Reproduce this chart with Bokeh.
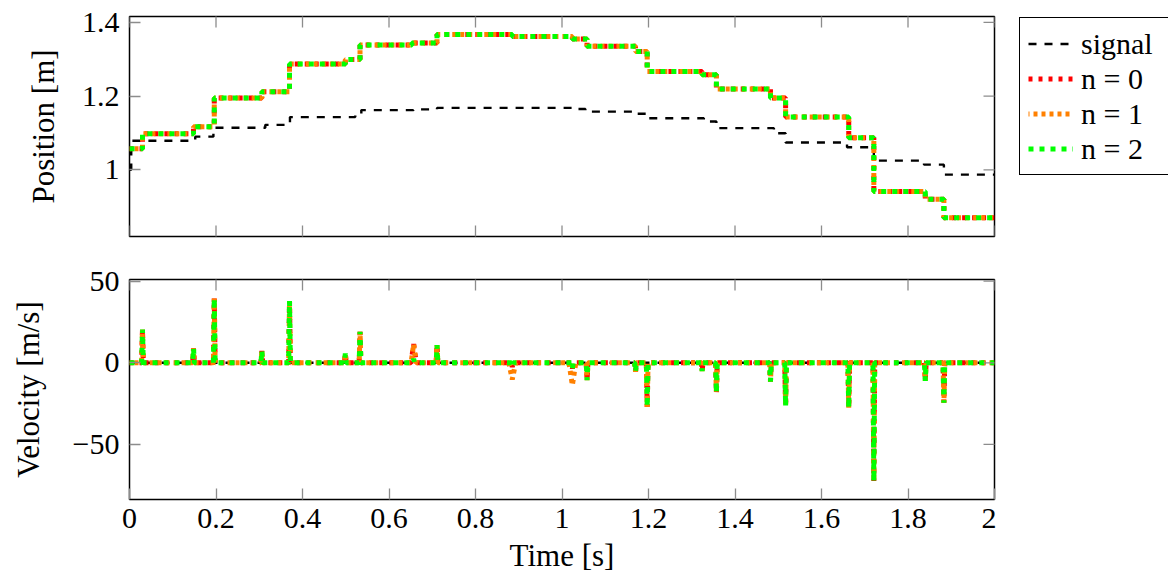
import math
from bokeh.plotting import figure
from bokeh.layouts import column, row
from bokeh.models import Range1d, FixedTicker, Legend, LegendItem
from bokeh.embed import file_html
from bokeh.resources import INLINE

# ---------------- data ----------------
T_END = 2.0

# measured signal (step changes: time [s], new level [m])
sig_t = [0.0, 0.004, 0.152, 0.194, 0.314, 0.371, 0.522, 0.536, 0.657, 0.711,
         1.024, 1.054, 1.166, 1.197, 1.328, 1.357, 1.490, 1.517, 1.659, 1.721,
         1.837, 1.883]
sig_y = [1.000, 1.079, 1.090, 1.114, 1.122, 1.143, 1.149, 1.162, 1.164, 1.168,
         1.165, 1.158, 1.152, 1.140, 1.131, 1.113, 1.099, 1.074, 1.061, 1.025,
         1.014, 0.987]

# estimated position (n = 0, 1, 2 coincide)
est_t = [0.0, 0.030, 0.148, 0.196, 0.306, 0.370, 0.499, 0.533, 0.653, 0.711,
         0.885, 1.024, 1.058, 1.170, 1.197, 1.324, 1.357, 1.482, 1.517, 1.663,
         1.721, 1.840, 1.883]
est_y = [1.057, 1.098, 1.117, 1.195, 1.212, 1.287, 1.299, 1.339, 1.344, 1.367,
         1.362, 1.355, 1.335, 1.321, 1.267, 1.258, 1.219, 1.195, 1.143, 1.087,
         0.941, 0.920, 0.870]

# velocity pulses shared by all estimates: time [s], peak [m/s]
vel_t = [0.030, 0.148, 0.196, 0.306, 0.370, 0.499, 0.533, 0.711, 1.058, 1.170,
         1.197, 1.324, 1.357, 1.482, 1.517, 1.663, 1.721, 1.840, 1.883]
vel_v = [20.4, 8.8, 39.4, 7.3, 37.8, 5.7, 19.0, 10.8, -10.6, -5.5,
         -27.0, -5.0, -18.4, -11.6, -26.5, -27.5, -72.4, -11.0, -24.5]
SAMPLE_DT = 0.002  # pulse half-duration [s]

# series-specific extra pulses: time, peak, half-duration
n0_extra_t = [0.657, 0.885, 1.024]
n0_extra_v = [11.4, -2.5, -3.5]
n0_extra_d = [0.006, 0.002, 0.002]
n1_extra_t = [0.657, 0.885, 1.024]
n1_extra_v = [11.4, -10.2, -13.7]
n1_extra_d = [0.006, 0.008, 0.008]
n2_extra_t = [0.657, 0.885, 1.024]
n2_extra_v = [2.5, -2.5, -3.5]
n2_extra_d = [0.002, 0.002, 0.002]

x_ticks = [0, 0.2, 0.4, 0.6, 0.8, 1, 1.2, 1.4, 1.6, 1.8, 2]
x_tick_labels = ["0", "0.2", "0.4", "0.6", "0.8", "1", "1.2", "1.4", "1.6", "1.8", "2"]
pos_ticks = [1, 1.2, 1.4]
pos_tick_labels = ["1", "1.2", "1.4"]
vel_ticks = [-50, 0, 50]
vel_tick_labels = ["\u221250", "0", "50"]

labels = ["signal", "n = 0", "n = 1", "n = 2"]
colors = ["black", "#ff0000", "#ff8000", "#00ff00"]

FONT = "Liberation Serif"
TICK_COLOR = "#8c8c8c"
TICK_LEN = 11
EST_W = 5
SIG_STYLE = dict(line_color=colors[0], line_width=2.4, line_dash="8 8")
N0_STYLE = dict(line_color=colors[1], line_width=EST_W, line_dash="4 6")
N1_STYLE = dict(line_color=colors[2], line_width=EST_W, line_dash="4 4", line_dash_offset=3)
N2_STYLE = dict(line_color=colors[3], line_width=EST_W, line_dash="5 6")


def step_xy(ts, ys):
    return list(ts) + [T_END], list(ys) + [ys[-1]]


def pulses(ts, vs, ds):
    items = sorted(zip(ts, vs, ds))
    xs, ys = [0.0], [0.0]
    for t, v, d in items:
        xs += [t - d, t, t + d]
        ys += [0.0, v, 0.0]
    xs.append(T_END)
    ys.append(0.0)
    return xs, ys


def style_axis(ax):
    ax.major_tick_in = TICK_LEN
    ax.major_tick_out = 0
    ax.minor_tick_line_color = None
    ax.major_tick_line_color = TICK_COLOR
    ax.major_tick_line_width = 1.3
    ax.axis_line_color = None
    ax.major_label_text_font = FONT
    ax.major_label_text_font_size = "30px"
    ax.major_label_text_color = "black"
    ax.axis_label_text_font = FONT
    ax.axis_label_text_font_size = "31px"
    ax.axis_label_text_font_style = "normal"
    ax.axis_label_text_color = "black"


def style_fig(fig):
    fig.xgrid.visible = False
    fig.ygrid.visible = False
    fig.outline_line_color = "black"
    fig.outline_line_width = 1.5
    fig.outline_line_alpha = 1.0
    fig.background_fill_color = "white"
    fig.border_fill_color = "white"


def mirror_ticks(fig, xr, yr, yticks, x_bottom):
    # inward tick marks on the edges that carry no labelled axis
    # (markers centred on the frame edge; the outer half is clipped by the frame)
    fig.scatter(x_ticks, [yr.end] * len(x_ticks), marker="dash", size=2 * TICK_LEN,
                angle=math.pi / 2, line_color=TICK_COLOR, line_width=1.3)
    if x_bottom:
        fig.scatter(x_ticks, [yr.start] * len(x_ticks), marker="dash", size=2 * TICK_LEN,
                    angle=math.pi / 2, line_color=TICK_COLOR, line_width=1.3)
    fig.scatter([xr.end] * len(yticks), yticks, marker="dash", size=2 * TICK_LEN,
                line_color=TICK_COLOR, line_width=1.3)


xr = Range1d(0, 2)
yr_top = Range1d(0.819, 1.416)
yr_bot = Range1d(-83.7, 51)

# ---------------- top: position ----------------
top = figure(frame_width=865, frame_height=220, x_range=xr, y_range=yr_top,
             output_backend="svg", toolbar_location=None, x_axis_location=None,
             min_border_left=129, min_border_top=16, min_border_bottom=22,
             min_border_right=2)
style_fig(top)
ya = top.left[0]
style_axis(ya)
ya.ticker = FixedTicker(ticks=pos_ticks)
ya.major_label_overrides = dict(zip(pos_ticks, pos_tick_labels))
ya.major_label_standoff = 10
ya.axis_label = "Position [m]"
ya.axis_label_standoff = 18

sx, sy = step_xy(sig_t, sig_y)
ex, ey = step_xy(est_t, est_y)
top.step(sx, sy, mode="after", **SIG_STYLE)
top.step(ex, ey, mode="after", **N0_STYLE)
top.step(ex, ey, mode="after", **N1_STYLE)
top.step(ex, ey, mode="after", **N2_STYLE)
mirror_ticks(top, xr, yr_top, pos_ticks, True)

# ---------------- legend panel (to the right of the top plot) ----------------
# same vertical structure as the top plot so that the row does not re-centre it
lg = figure(frame_width=150, frame_height=221, output_backend="svg",
            x_range=Range1d(0, 1), y_range=Range1d(0, 1),
            toolbar_location=None, x_axis_location=None, y_axis_location=None,
            min_border_left=22, min_border_top=15, min_border_right=0,
            min_border_bottom=22)
lg.xgrid.visible = False
lg.ygrid.visible = False
lg.outline_line_color = None
lg.background_fill_color = "white"
lg.border_fill_color = "white"
nan = float("nan")
lr = [lg.line([nan], [nan], **SIG_STYLE), lg.line([nan], [nan], **N0_STYLE),
      lg.line([nan], [nan], **N1_STYLE), lg.line([nan], [nan], **N2_STYLE)]
legend = Legend(items=[LegendItem(label=lab, renderers=[r]) for lab, r in zip(labels, lr)],
                location="top_left", orientation="vertical")
legend.label_text_font = FONT
legend.label_text_font_size = "30px"
legend.label_text_color = "black"
legend.border_line_color = "black"
legend.border_line_width = 1.2
legend.border_line_alpha = 1.0
legend.background_fill_alpha = 1.0
legend.padding = 8
legend.spacing = 0
legend.margin = 1
legend.glyph_width = 45
legend.glyph_height = 35
legend.label_height = 35
legend.label_width = 79
legend.label_standoff = 8
lg.add_layout(legend, "center")

# ---------------- bottom: velocity ----------------
bot = figure(frame_width=865, frame_height=220, x_range=xr, y_range=yr_bot,
             output_backend="svg", toolbar_location=None,
             min_border_left=129, min_border_top=21, min_border_right=2,
             min_border_bottom=10)
style_fig(bot)
ya = bot.left[0]
style_axis(ya)
ya.ticker = FixedTicker(ticks=vel_ticks)
ya.major_label_overrides = dict(zip(vel_ticks, vel_tick_labels))
ya.major_label_standoff = 10
ya.axis_label = "Velocity [m/s]"
ya.axis_label_standoff = 24
xa = bot.below[0]
style_axis(xa)
xa.ticker = FixedTicker(ticks=x_ticks)
xa.major_label_overrides = dict(zip(x_ticks, x_tick_labels))
xa.major_label_standoff = 9
xa.axis_label = "Time [s]"
xa.axis_label_standoff = 7

bot.line([0, T_END], [0, 0], **SIG_STYLE)
v0x, v0y = pulses(vel_t + n0_extra_t, vel_v + n0_extra_v,
                  [SAMPLE_DT] * len(vel_t) + n0_extra_d)
v1x, v1y = pulses(vel_t + n1_extra_t, vel_v + n1_extra_v,
                  [SAMPLE_DT] * len(vel_t) + n1_extra_d)
v2x, v2y = pulses(vel_t + n2_extra_t, vel_v + n2_extra_v,
                  [SAMPLE_DT] * len(vel_t) + n2_extra_d)
bot.line(v0x, v0y, **N0_STYLE)
bot.line(v1x, v1y, **N1_STYLE)
bot.line(v2x, v2y, **N2_STYLE)
mirror_ticks(bot, xr, yr_bot, vel_ticks, False)

layout = column(row(top, lg, spacing=0), bot, spacing=0)
open("out.html", "w").write(file_html(layout, INLINE))
